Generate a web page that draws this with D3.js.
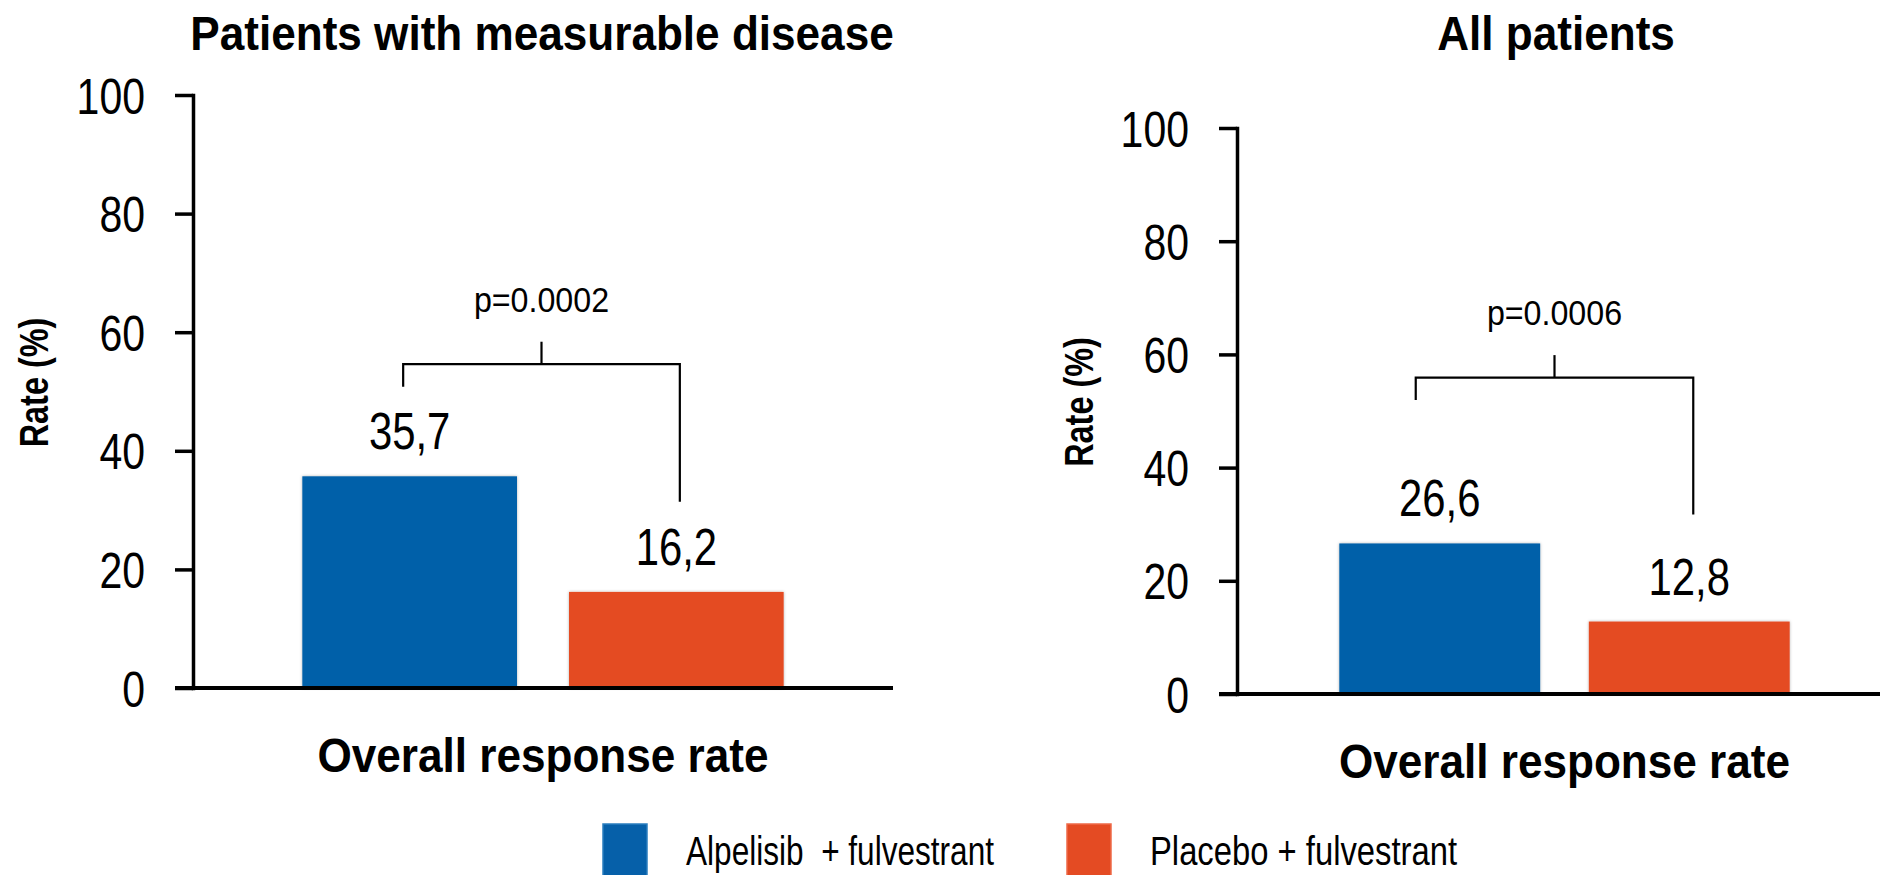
<!DOCTYPE html>
<html>
<head>
<meta charset="utf-8">
<script src="https://cdn.jsdelivr.net/npm/d3@7"></script>
<style>
  html, body { margin: 0; padding: 0; background: #fff; }
  svg { display: block; }
  text { font-family: "Liberation Sans", Arial, sans-serif; fill: #000; }
</style>
</head>
<body>
<svg id="chart" width="1880" height="875"></svg>
<script>
// ---- data ----
const categories = ["Alpelisib  + fulvestrant", "Placebo + fulvestrant"];
const seriesColors = ["#0660A9", "#E44B23"];
const panelTitles = ["Patients with measurable disease", "All patients"];
const measurableDiseaseRates = [35.7, 16.2];
const allPatientsRates = [26.6, 12.8];
const pValueLabels = ["p=0.0002", "p=0.0006"];
const yTickValues = [0, 20, 40, 60, 80, 100];
const xAxisLabel = "Overall response rate";
const yAxisLabel = "Rate (%)";

// ---- layout of the two panels ----
const panels = [
  { title: panelTitles[0], values: measurableDiseaseRates, pLabel: pValueLabels[0],
    x0: 193, x1: 893, yZero: 688, yTop: 95, titleX: 542, yLabelX: 48,
    bracketLevel: 54.6, bracketEnd: 31.4, legShift: [-6.5, 3.5] },
  { title: panelTitles[1], values: allPatientsRates, pLabel: pValueLabels[1],
    x0: 1237, x1: 1892, yZero: 694, yTop: 128, titleX: 1556, yLabelX: 1093,
    bracketLevel: 55.9, bracketEnd: 31.7, legShift: [-24, 4] }
];

const svg = d3.select("#chart");
svg.append("rect").attr("width", 1880).attr("height", 875).attr("fill", "#fff");

// soft edge shadow under the bars
const defs = svg.append("defs");
defs.append("filter").attr("id", "barShadow")
  .attr("x", "-5%").attr("y", "-5%").attr("width", "110%").attr("height", "110%")
  .append("feDropShadow")
  .attr("dx", 0).attr("dy", 0).attr("stdDeviation", 1.6)
  .attr("flood-color", "#000").attr("flood-opacity", 0.3);

// narrow-face look: compress the rendered text horizontally
function squeeze(sel, ratio) {
  sel.each(function () {
    const w = this.getComputedTextLength();
    this.setAttribute("textLength", (w * ratio).toFixed(1));
    this.setAttribute("lengthAdjust", "spacingAndGlyphs");
  });
}
function fitTo(sel, width) {
  sel.attr("textLength", width).attr("lengthAdjust", "spacingAndGlyphs");
}
const fmt = v => d3.format(".1f")(v).replace(".", ",");

panels.forEach((p, i) => {
  const g = svg.append("g");
  const y = d3.scaleLinear().domain([0, 100]).range([p.yZero, p.yTop]);
  const x = d3.scaleBand().domain(categories).range([p.x0, p.x1])
    .paddingInner(0.195).paddingOuter(0.41);

  // bars
  g.selectAll("rect.bar").data(p.values).join("rect")
    .attr("class", "bar")
    .attr("x", (d, j) => x(categories[j]))
    .attr("y", d => y(d))
    .attr("width", x.bandwidth())
    .attr("height", d => y(0) - y(d))
    .attr("fill", (d, j) => seriesColors[j])
    .attr("filter", "url(#barShadow)");

  // value labels
  const vl = g.selectAll("text.value").data(p.values).join("text")
    .attr("class", "value")
    .attr("x", (d, j) => x(categories[j]) + x.bandwidth() / 2)
    .attr("y", d => y(d) - 27)
    .attr("text-anchor", "middle")
    .style("font-size", "51px")
    .text(d => fmt(d));
  squeeze(vl, 0.82);

  // y axis
  const axis = d3.axisLeft(y).tickValues(yTickValues).tickSize(18).tickPadding(30).tickSizeOuter(0);
  const ag = g.append("g").attr("transform", `translate(${p.x0},0)`).call(axis);
  ag.attr("font-family", null).attr("font-size", null);
  ag.select(".domain").attr("stroke", "#000").attr("stroke-width", 3.5).attr("stroke-linecap", "square");
  ag.selectAll(".tick line").attr("stroke", "#000").attr("stroke-width", 3.5);
  const tl = ag.selectAll(".tick text").attr("dy", "0.36em").style("font-size", "50px").attr("fill", "#000");
  squeeze(tl, 0.82);

  // baseline
  g.append("line")
    .attr("x1", p.x0 - 18).attr("x2", Math.min(p.x1, 1880))
    .attr("y1", y(0)).attr("y2", y(0))
    .attr("stroke", "#000").attr("stroke-width", 4);

  // significance bracket
  const legL = x(categories[0]) + x.bandwidth() / 2 + p.legShift[0];
  const legR = x(categories[1]) + x.bandwidth() / 2 + p.legShift[1];
  const yb = y(p.bracketLevel);
  const mid = (legL + legR) / 2;
  g.append("path")
    .attr("d", `M${legL},${yb + 22.5}V${yb}H${legR}V${y(p.bracketEnd)}`)
    .attr("fill", "none").attr("stroke", "#000").attr("stroke-width", 2.2);
  g.append("path")
    .attr("d", `M${mid},${yb}V${yb - 22.5}`)
    .attr("fill", "none").attr("stroke", "#000").attr("stroke-width", 2.2);
  const pt = g.append("text")
    .attr("x", mid).attr("y", yb - 22.5 - 30)
    .attr("text-anchor", "middle")
    .style("font-size", "35px")
    .text(p.pLabel);
  squeeze(pt, 0.92);

  // panel title
  const tt = g.append("text")
    .attr("x", p.titleX).attr("y", 50)
    .attr("text-anchor", "middle")
    .style("font-size", "49px").style("font-weight", "bold")
    .text(p.title);
  squeeze(tt, 0.9);

  // x axis label
  const xl = g.append("text")
    .attr("x", (p.x0 + p.x1) / 2).attr("y", y(0) + 84)
    .attr("text-anchor", "middle")
    .style("font-size", "49px").style("font-weight", "bold")
    .text(xAxisLabel);
  squeeze(xl, 0.9);

  // y axis label
  const yc = (p.yZero + p.yTop) / 2 - 9;
  const yl = g.append("text")
    .attr("transform", `translate(${p.yLabelX},${yc}) rotate(-90)`)
    .attr("text-anchor", "middle")
    .style("font-size", "40px").style("font-weight", "bold")
    .text(yAxisLabel);
  squeeze(yl, 0.81);
});

// legend
const legendX = [603, 1067];
const legend = svg.append("g");
categories.forEach((c, j) => {
  legend.append("rect")
    .attr("x", legendX[j]).attr("y", 824)
    .attr("width", 44).attr("height", 54)
    .attr("fill", seriesColors[j])
    .attr("stroke", j === 0 ? "#2A7DBE" : "#EE6A48").attr("stroke-width", 1.5);
  const t = legend.append("text")
    .attr("x", legendX[j] + 83).attr("y", 865)
    .style("font-size", "40px").style("white-space", "pre")
    .text(c);
  fitTo(t, j === 0 ? 308 : 307);
});
</script>
</body>
</html>
